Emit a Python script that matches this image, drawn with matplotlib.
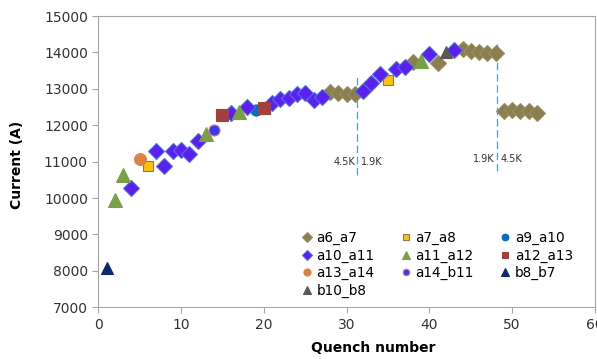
import matplotlib
matplotlib.use('Agg')
from matplotlib import pyplot as plt

plt.rcParams['font.family'] = ['DejaVu Sans']

# series data (quench number, current in A)
a6_a7_x = [28, 29, 30, 31, 38, 41, 44, 45, 46, 47, 48, 49, 50, 51, 52, 53]
a6_a7_y = [12900, 12880, 12870, 12850, 13740, 13710, 14100, 14050, 14020, 13990, 13980,
           12400, 12420, 12400, 12380, 12330]
a7_a8_x = [6, 35]
a7_a8_y = [10870, 13250]
a9_a10_x = [19]
a9_a10_y = [12420]
a10_a11_x = [4, 7, 8, 9, 10, 11, 12, 16, 18, 21, 22, 23, 24, 25, 26, 27, 32, 33, 34, 36, 37, 40, 43]
a10_a11_y = [10280, 11300, 10880, 11280, 11320, 11220, 11580, 12330, 12510, 12600, 12710, 12760,
             12860, 12880, 12690, 12780, 12940, 13150, 13400, 13550, 13600, 13950, 14080]
a11_a12_x = [2, 3, 13, 17, 39]
a11_a12_y = [9950, 10620, 11750, 12370, 13770]
a12_a13_x = [15, 20]
a12_a13_y = [12280, 12480]
a13_a14_x = [5]
a13_a14_y = [11080]
a14_b11_x = [14]
a14_b11_y = [11880]
b8_b7_x = [1]
b8_b7_y = [8070]
b10_b8_x = [42]
b10_b8_y = [14020]

# temperature change markers
change_x = [31.3, 48.2]
change_ymin = [10630, 10750]
change_ymax = [13320, 14240]

fig = plt.figure(figsize=(5.97, 3.59), dpi=100)
ax = fig.add_axes([0.1646, 0.144, 0.832, 0.8114])

series = [
    ('a6_a7', a6_a7_x, a6_a7_y, 'D', '#8B7F50', '#9A8E60', 8),
    ('a7_a8', a7_a8_x, a7_a8_y, 's', '#FFC000', '#8E7A5A', 7.5),
    ('a9_a10', a9_a10_x, a9_a10_y, 'o', '#0070C0', '#0070C0', 8),
    ('a10_a11', a10_a11_x, a10_a11_y, 'D', '#5B1FEF', '#4F6FE0', 8),
    ('a11_a12', a11_a12_x, a11_a12_y, '^', '#7AA046', '#7AA046', 10.5),
    ('a12_a13', a12_a13_x, a12_a13_y, 's', '#A33F3C', '#A33F3C', 8),
    ('a13_a14', a13_a14_x, a13_a14_y, 'o', '#E0823F', '#E0823F', 8.5),
    ('a14_b11', a14_b11_x, a14_b11_y, 'o', '#3A3AF5', '#E08080', 8),
    ('b8_b7', b8_b7_x, b8_b7_y, '^', '#0B2A6B', '#0B2A6B', 8.5),
    ('b10_b8', b10_b8_x, b10_b8_y, '^', '#595959', '#595959', 8.5),
]

handles = {}
for name, xs, ys, mk, fc, ec, ms in series:
    h, = ax.plot(xs, ys, linestyle='none', marker=mk, markersize=ms,
                 markerfacecolor=fc, markeredgecolor=ec, markeredgewidth=0.8, label=name)
    handles[name] = h

for cx, y0, y1 in zip(change_x, change_ymin, change_ymax):
    ax.plot([cx, cx], [y0, y1], color='#5B9BD5', lw=0.9, dashes=(6, 3), zorder=1)

ax.text(31.0, 11000, '4.5K', ha='right', va='center', fontsize=7, color='#333333')
ax.text(31.7, 11000, '1.9K', ha='left', va='center', fontsize=7, color='#333333')
ax.text(47.9, 11070, '1.9K', ha='right', va='center', fontsize=7, color='#333333')
ax.text(48.6, 11070, '4.5K', ha='left', va='center', fontsize=7, color='#333333')

ax.set_xlim(0, 60)
ax.set_ylim(7000, 15000)
ax.set_xticks(range(0, 61, 10))
ax.set_yticks(range(7000, 15001, 1000))
ax.tick_params(labelsize=10, colors='#333333', length=4, width=0.8)
ax.tick_params(axis='both', color='#A6A6A6')
for sp in ax.spines.values():
    sp.set_color('#A6A6A6')
    sp.set_linewidth(0.8)

ax.set_xlabel('Quench number', fontsize=10, fontweight='bold')
ax.set_ylabel('Current (A)', fontsize=10, fontweight='bold')
ax.xaxis.set_label_coords(0.553, -0.115)
ax.yaxis.set_label_coords(-0.15, 0.49)

order = ['a6_a7', 'a10_a11', 'a13_a14', 'b10_b8',
         'a7_a8', 'a11_a12', 'a14_b11',
         'a9_a10', 'a12_a13', 'b8_b7']
ax.legend([handles[n] for n in order], order, ncol=3, loc='lower left',
          bbox_to_anchor=(0.39, 0.0), frameon=False, fontsize=9.8,
          markerscale=0.6, handlelength=0.8, handletextpad=0.3,
          columnspacing=1.9, labelspacing=0.25, borderpad=0.2)

plt.savefig('out.png', dpi=100)
